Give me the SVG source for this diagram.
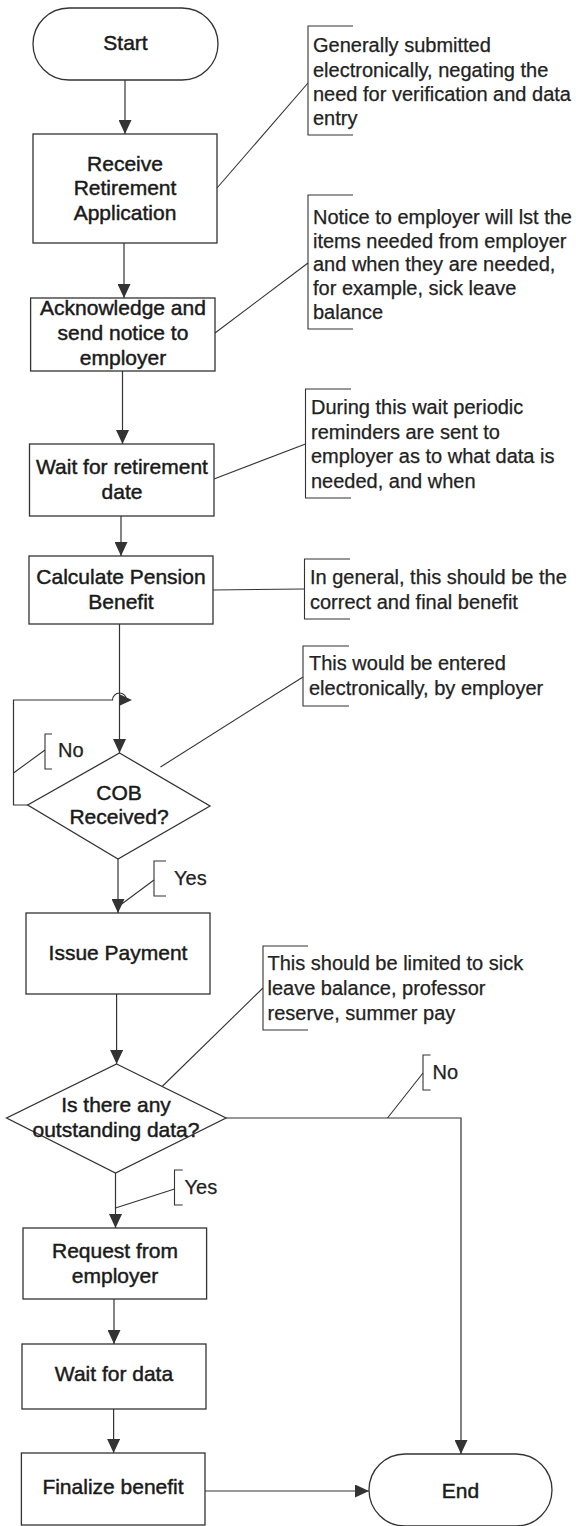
<svg xmlns="http://www.w3.org/2000/svg" width="576" height="1526" viewBox="0 0 576 1526">
  <style>
    .box { fill: #fff; stroke: #333; stroke-width: 1.3; }
    .edge { fill: none; stroke: #333; stroke-width: 1.2; }
    .lead { fill: none; stroke: #333; stroke-width: 1.1; }
    .lbl { font-family: "Liberation Sans", Arial, sans-serif; font-size: 21px; fill: #1a1a1a; stroke: #1a1a1a; stroke-width: 0.45; text-anchor: middle; }
    .note { font-family: "Liberation Sans", Arial, sans-serif; font-size: 20px; fill: #222; stroke: #222; stroke-width: 0.25; }
  </style>
  <defs>
    <marker id="arrow" viewBox="0 0 14 13" refX="14" refY="6.5" markerWidth="14" markerHeight="13" markerUnits="userSpaceOnUse" orient="auto">
      <path d="M0,0 L14,6.5 L0,13 z" fill="#333"/>
    </marker>
  </defs>
  <rect width="576" height="1526" fill="#fff"/>

  <!-- flow connectors -->
  <g id="connectors">
    <path class="edge" d="M125 80 V134" marker-end="url(#arrow)"/>
    <path class="edge" d="M124 243 V298" marker-end="url(#arrow)"/>
    <path class="edge" d="M122.5 371 V444" marker-end="url(#arrow)"/>
    <path class="edge" d="M121 516 V556" marker-end="url(#arrow)"/>
    <path class="edge" d="M119.5 624 V753" marker-end="url(#arrow)"/>
    <!-- "No" loop back into the main line, hopping over it -->
    <path class="edge" d="M28 805 H13.5 V700 H112.5 A7 7 0 0 1 126.5 700"/>
    <path d="M119 694 L132 700 L119 706 z" fill="#333"/>
    <path class="edge" d="M118 859 V913" marker-end="url(#arrow)"/>
    <path class="edge" d="M116.6 994 V1064" marker-end="url(#arrow)"/>
    <path class="edge" d="M226 1118 H461 V1454" marker-end="url(#arrow)"/>
    <path class="edge" d="M115.5 1173 V1228" marker-end="url(#arrow)"/>
    <path class="edge" d="M114 1299 V1344" marker-end="url(#arrow)"/>
    <path class="edge" d="M113.6 1409 V1453" marker-end="url(#arrow)"/>
    <path class="edge" d="M205 1491 H369" marker-end="url(#arrow)"/>

    <!-- annotation leaders -->
    <path class="lead" d="M217 188 L308 83"/>
    <path class="lead" d="M215 333 L308 263"/>
    <path class="lead" d="M214 479 L305.5 444"/>
    <path class="lead" d="M213 590 L304.5 589"/>
    <path class="lead" d="M160.5 767 L303 677"/>
    <path class="lead" d="M161.6 1087 L263 988"/>
    <path class="lead" d="M13.5 773 L45 750"/>
    <path class="lead" d="M119 906 L154 880"/>
    <path class="lead" d="M387.5 1118 L423 1073"/>
    <path class="lead" d="M115.5 1208 L174.5 1189"/>
  </g>

  <g id="start">
    <rect class="box" x="33" y="8" width="185" height="72" rx="36" ry="36"/>
    <text class="lbl" x="125.5" y="50">Start</text>
  </g>

  <g id="receive">
    <rect class="box" x="33" y="134" width="184" height="109"/>
    <text class="lbl" x="125" y="171">Receive</text>
    <text class="lbl" x="125" y="195">Retirement</text>
    <text class="lbl" x="125" y="220">Application</text>
  </g>

  <g id="acknowledge">
    <rect class="box" x="30.6" y="298" width="184.4" height="73"/>
    <text class="lbl" x="123" y="315">Acknowledge and</text>
    <text class="lbl" x="123" y="340">send notice to</text>
    <text class="lbl" x="123" y="365">employer</text>
  </g>

  <g id="wait-retirement">
    <rect class="box" x="29.5" y="444" width="184.5" height="72"/>
    <text class="lbl" x="122" y="474">Wait for retirement</text>
    <text class="lbl" x="122" y="499">date</text>
  </g>

  <g id="calculate">
    <rect class="box" x="29" y="556" width="184" height="68"/>
    <text class="lbl" x="121" y="584">Calculate Pension</text>
    <text class="lbl" x="121" y="609">Benefit</text>
  </g>

  <g id="cob">
    <path class="box" d="M119.5 753 L210 806 L118 859 L27.7 805 z"/>
    <text class="lbl" x="119" y="800">COB</text>
    <text class="lbl" x="119" y="824">Received?</text>
  </g>

  <g id="issue-payment">
    <rect class="box" x="26" y="913" width="184" height="81"/>
    <text class="lbl" x="118" y="960">Issue Payment</text>
  </g>

  <g id="outstanding">
    <path class="box" d="M116.6 1064 L226 1118 L115.5 1173 L6.6 1118 z"/>
    <text class="lbl" x="116" y="1112">Is there any</text>
    <text class="lbl" x="116" y="1137">outstanding data?</text>
  </g>

  <g id="request">
    <rect class="box" x="23" y="1228" width="183.6" height="71"/>
    <text class="lbl" x="115" y="1258">Request from</text>
    <text class="lbl" x="115" y="1283">employer</text>
  </g>

  <g id="wait-data">
    <rect class="box" x="22" y="1344" width="184" height="65"/>
    <text class="lbl" x="114" y="1381">Wait for data</text>
  </g>

  <g id="finalize">
    <rect class="box" x="21.4" y="1453" width="183.6" height="72"/>
    <text class="lbl" x="113" y="1494">Finalize benefit</text>
  </g>

  <g id="end">
    <rect class="box" x="369" y="1454" width="183" height="72" rx="36" ry="36"/>
    <text class="lbl" x="460.5" y="1498">End</text>
  </g>

  <!-- annotations: open brackets with text -->
  <g id="note-submitted">
    <path class="lead" d="M353 26 H308 V135 H353"/>
    <text class="note" x="313" y="52">Generally submitted</text>
    <text class="note" x="313" y="77">electronically, negating the</text>
    <text class="note" x="313" y="101">need for verification and data</text>
    <text class="note" x="313" y="125">entry</text>
  </g>

  <g id="note-notice">
    <path class="lead" d="M353 195 H308 V329 H353"/>
    <text class="note" x="313" y="224">Notice to employer will lst the</text>
    <text class="note" x="313" y="247.5">items needed from employer</text>
    <text class="note" x="313" y="271">and when they are needed,</text>
    <text class="note" x="313" y="295">for example, sick leave</text>
    <text class="note" x="313" y="319">balance</text>
  </g>

  <g id="note-reminders">
    <path class="lead" d="M351 389 H305.5 V498 H351"/>
    <text class="note" x="311" y="414">During this wait periodic</text>
    <text class="note" x="311" y="439">reminders are sent to</text>
    <text class="note" x="311" y="463">employer as to what data is</text>
    <text class="note" x="311" y="488">needed, and when</text>
  </g>

  <g id="note-final">
    <path class="lead" d="M350 559 H304.5 V619 H350"/>
    <text class="note" x="310" y="584">In general, this should be the</text>
    <text class="note" x="310" y="609">correct and final benefit</text>
  </g>

  <g id="note-cob">
    <path class="lead" d="M349 646 H303 V706 H349"/>
    <text class="note" x="309" y="670">This would be entered</text>
    <text class="note" x="309" y="695">electronically, by employer</text>
  </g>

  <g id="note-limited">
    <path class="lead" d="M308 946 H263 V1030 H308"/>
    <text class="note" x="267.5" y="970">This should be limited to sick</text>
    <text class="note" x="267.5" y="995">leave balance, professor</text>
    <text class="note" x="267.5" y="1020">reserve, summer pay</text>
  </g>

  <!-- branch labels -->
  <g id="label-no-cob">
    <path class="lead" d="M52 734 H45 V769 H52"/>
    <text class="note" x="58" y="757">No</text>
  </g>
  <g id="label-yes-cob">
    <path class="lead" d="M166 861 H154 V896 H166"/>
    <text class="note" x="174" y="885">Yes</text>
  </g>
  <g id="label-no-data">
    <path class="lead" d="M430.6 1055 H423 V1090 H430.6"/>
    <text class="note" x="432.5" y="1079">No</text>
  </g>
  <g id="label-yes-data">
    <path class="lead" d="M182.7 1170 H174.5 V1205 H182.7"/>
    <text class="note" x="184.5" y="1194">Yes</text>
  </g>
</svg>
